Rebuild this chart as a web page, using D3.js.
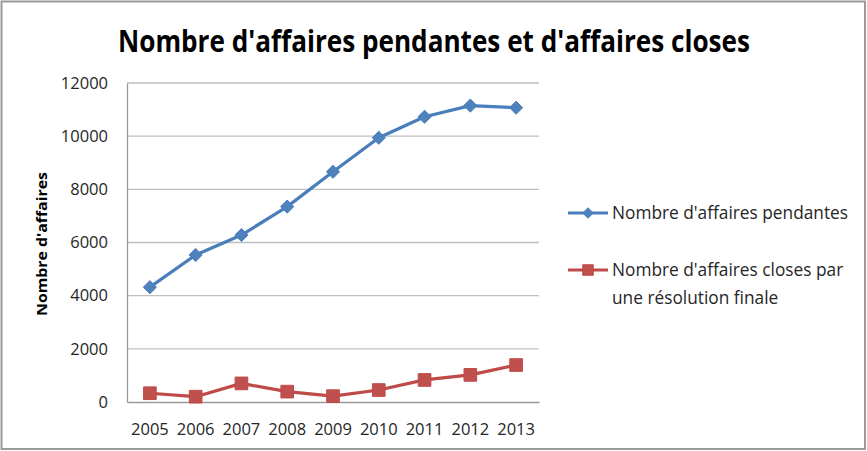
<!DOCTYPE html>
<html>
<head>
<meta charset="utf-8">
<script src="https://cdn.jsdelivr.net/npm/d3@7"></script>
<style>
  body{margin:0;background:#fff}
  svg{display:block}
  text{font-family:"Open Sans","Noto Sans",sans-serif;fill:#262626}
</style>
</head>
<body>
<div class="chart"></div>
<script>
// data
const years=["2005","2006","2007","2008","2009","2010","2011","2012","2013"]
const pendantes=[4320,5530,6280,7350,8660,9940,10730,11150,11070]
const closes=[330,200,700,390,220,450,830,1020,1390]
const yTicks=[0,2000,4000,6000,8000,10000,12000]
const seriesNames=["Nombre d'affaires pendantes","Nombre d'affaires closes par|une résolution finale"]
const title="Nombre d'affaires pendantes et d'affaires closes"
const yLabel="Nombre d'affaires"

const W=867,H=451
const blue="#4a7ebb",blueMk="#4f81bd",red="#be4b48",redMk="#c0504d"

let svg=d3.select('.chart').append('svg').attr('width',W).attr('height',H)
svg.append('rect').attr('x',0).attr('y',0).attr('width',W).attr('height',H).attr('fill','#fff')
// frame
svg.append('rect').attr('x',1.5).attr('y',1.5).attr('width',863.5).attr('height',447.5)
  .attr('fill','none').attr('stroke','#9a9a9a').attr('stroke-width',2)

let x=d3.scaleBand().domain(years).range([127,539])
let y=d3.scaleLinear().domain([0,12000]).range([402,83])

// grid
svg.append('g').selectAll('line').data(yTicks.filter(d=>d>0)).join('line')
  .attr('x1',127).attr('x2',539)
  .attr('y1',d=>y(d)).attr('y2',d=>y(d))
  .attr('stroke','#bfbfbf').attr('stroke-width',1.3)

// axes
let yaxis=d3.axisLeft(y).tickValues(yTicks).tickSize(0).tickPadding(19).tickFormat(d=>d)
let gy=svg.append('g').attr('transform','translate(127,0)').call(yaxis)
gy.select('.domain').attr('stroke','#9a9a9a').attr('stroke-width',1.3)
gy.selectAll('text').style('font-size','16.5px').attr('fill','#262626')

let xaxis=d3.axisBottom(x).tickSize(0).tickPadding(21)
let gx=svg.append('g').attr('transform','translate(0,402)').call(xaxis)
gx.select('.domain').attr('stroke','#9a9a9a').attr('stroke-width',1.3)
gx.selectAll('text').style('font-size','16.5px').attr('fill','#262626')

let cx=d=>x(d)+x.bandwidth()/2
let line=d3.line().x((d,i)=>cx(years[i])).y(d=>y(d))

svg.append('path').datum(pendantes).attr('d',line).attr('fill','none')
  .attr('stroke',blue).attr('stroke-width',3.2).attr('stroke-linejoin','round')
svg.append('path').datum(closes).attr('d',line).attr('fill','none')
  .attr('stroke',red).attr('stroke-width',3.2).attr('stroke-linejoin','round')

let diamond=d3.symbol().type(d3.symbolDiamond2).size(110)
let square=d3.symbol().type(d3.symbolSquare).size(160)

svg.append('g').selectAll('path').data(pendantes).join('path')
  .attr('d',diamond)
  .attr('transform',(d,i)=>'translate('+cx(years[i])+','+y(d)+')')
  .attr('fill',blueMk).attr('stroke',blue).attr('stroke-width',1)
svg.append('g').selectAll('path').data(closes).join('path')
  .attr('d',square)
  .attr('transform',(d,i)=>'translate('+cx(years[i])+','+y(d)+')')
  .attr('fill',redMk).attr('stroke',red).attr('stroke-width',1)

// title, squeezed to the width seen in the picture
let t=svg.append('text').attr('x',434).attr('y',52).attr('text-anchor','middle')
  .style('font-size','30px').style('font-weight','bold').style('fill','#000')
  .text(title)
if(t.node().getComputedTextLength()>632)t.attr('textLength',632).attr('lengthAdjust','spacingAndGlyphs')

// y label
let yl=svg.append('text').attr('transform','translate(47,244) rotate(-90)').attr('text-anchor','middle')
  .style('font-size','15px').style('font-weight','bold').style('fill','#000')
  .text(yLabel)
yl.attr('textLength',144).attr('lengthAdjust','spacingAndGlyphs')

// legend
let leg=[{c:blue,mc:blueMk,sym:diamond,y:213},{c:red,mc:redMk,sym:square,y:270}]
leg.forEach((l,i)=>{
  let g=svg.append('g')
  g.append('line').attr('x1',568).attr('x2',608).attr('y1',l.y).attr('y2',l.y)
    .attr('stroke',l.c).attr('stroke-width',3.2)
  g.append('path').attr('d',l.sym.size(i==0?70:110)).attr('transform','translate(588,'+l.y+')')
    .attr('fill',l.mc).attr('stroke',l.c)
  let lines=seriesNames[i].split('|')
  lines.forEach((s,j)=>{
    g.append('text').attr('x',612).attr('y',l.y+6+j*28).style('font-size','17.3px').text(s)
  })
})
</script>
</body>
</html>
